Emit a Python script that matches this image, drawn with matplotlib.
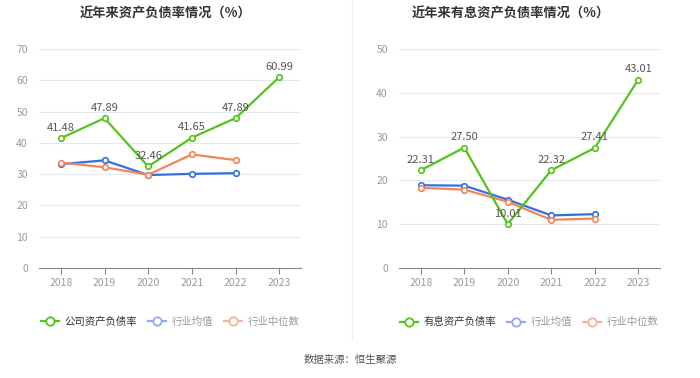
import numpy as np
import matplotlib
matplotlib.use('Agg')
import matplotlib.pyplot as plt
from matplotlib.lines import Line2D

plt.rcParams['font.family'] = ['Noto Sans CJK SC', 'DejaVu Sans']

years = ['2018', '2019', '2020', '2021', '2022', '2023']

# left chart: asset-liability ratio
debt_ratio = [41.48, 47.89, 32.46, 41.65, 47.89, 60.99]
debt_avg = [33.2, 34.4, 29.7, 30.1, 30.3]
debt_median = [33.7, 32.2, 29.8, 36.3, 34.5]

# right chart: interest-bearing debt ratio
int_ratio = [22.31, 27.50, 10.01, 22.32, 27.41, 43.01]
int_avg = [18.9, 18.8, 15.6, 12.0, 12.3]
int_median = [18.3, 17.9, 15.1, 11.0, 11.3]

GREEN = '#52c41a'
BLUE = '#3470e0'
ORANGE = '#f5845a'
GRID = '#e3e8f4'
TICK = '#999999'


def draw(ax, main, avg, med, ymax, step):
    x = np.arange(len(years))
    ax.plot(x[:len(avg)], avg, '-o', color=BLUE, lw=1.6, ms=4,
            mfc='white', mec=BLUE, mew=1.2, zorder=3)
    ax.plot(x[:len(med)], med, '-o', color=ORANGE, lw=1.6, ms=4,
            mfc='white', mec=ORANGE, mew=1.2, zorder=3)
    ax.plot(x, main, '-o', color=GREEN, lw=1.6, ms=4,
            mfc='white', mec=GREEN, mew=1.2, zorder=4)
    for xi, v in zip(x, main):
        ax.annotate(f'{v:.2f}', (xi, v), xytext=(0, 4), textcoords='offset points',
                    ha='center', va='bottom', fontsize=8, color='#555555', zorder=5)
    ax.set_xlim(-0.5, len(years) - 0.5)
    ax.set_ylim(0, ymax)
    ax.set_yticks(np.arange(0, ymax + 1, step))
    ax.set_xticks(x)
    ax.set_xticklabels(years)
    ax.grid(axis='y', color=GRID, lw=0.8)
    ax.set_axisbelow(True)
    for s in ['top', 'right', 'left']:
        ax.spines[s].set_visible(False)
    ax.spines['bottom'].set_color('#888888')
    ax.tick_params(axis='y', length=0, colors=TICK, labelsize=7.5, pad=8)
    ax.tick_params(axis='x', length=4, color='#888888', colors=TICK, labelsize=7.5, pad=3)


def legend(ax, label, x_anchor):
    handles = [
        Line2D([], [], color=GREEN, marker='o', ms=6, mfc='white', mew=1.3, lw=1.6),
        Line2D([], [], color='#8eaaf0', marker='o', ms=6, mfc='white', mew=1.3, lw=1.6),
        Line2D([], [], color='#f8b49a', marker='o', ms=6, mfc='white', mew=1.3, lw=1.6),
    ]
    leg = ax.figure.legend(handles, [label, '行业均值', '行业中位数'], loc='center',
                           bbox_to_anchor=(x_anchor, 1 - 322 / 378), ncol=3, frameon=False,
                           fontsize=7.5, handlelength=1.8, handletextpad=0.5, columnspacing=1.0)
    cols = ['#333333', '#999999', '#999999']
    for t, c in zip(leg.get_texts(), cols):
        t.set_color(c)


fig = plt.figure(figsize=(7, 3.78), dpi=100)
ax1 = fig.add_axes([39 / 700, 1 - 268 / 378, 262 / 700, 219 / 378])
ax2 = fig.add_axes([399 / 700, 1 - 268 / 378, 261 / 700, 219 / 378])

draw(ax1, debt_ratio, debt_avg, debt_median, 70, 10)
draw(ax2, int_ratio, int_avg, int_median, 50, 10)

fig.text(166 / 700, 1 - 13 / 378, '近年来资产负债率情况（%）', ha='center', va='center',
         fontsize=9.5, fontweight='bold', color='#333333')
fig.text(511 / 700, 1 - 13 / 378, '近年来有息资产负债率情况（%）', ha='center', va='center',
         fontsize=9.5, fontweight='bold', color='#333333')

legend(ax1, '公司资产负债率', 170 / 700)
legend(ax2, '有息资产负债率', 529 / 700)

fig.add_artist(Line2D([352 / 700, 352 / 700], [1 - 340 / 378, 1.0], color='#f0f0f0', lw=1))

fig.text(350 / 700, 1 - 360 / 378, '数据来源：恒生聚源', ha='center', va='center',
         fontsize=7.5, color='#555555')

fig.savefig('out.png', dpi=100)
